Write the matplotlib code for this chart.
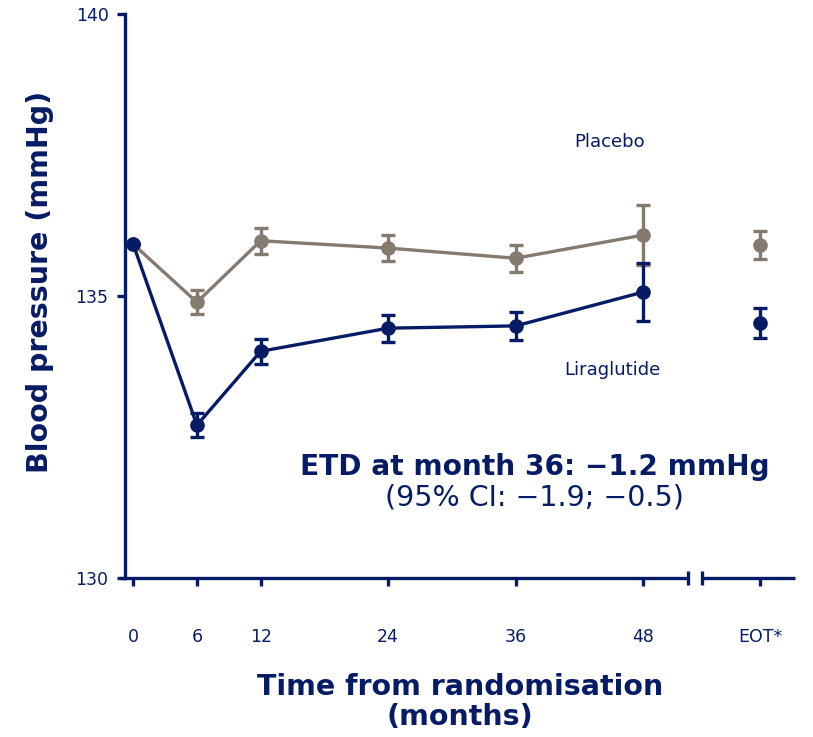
import matplotlib
matplotlib.use("Agg")
import matplotlib.pyplot as plt

NAVY = "#061b65"
GRAY = "#857a70"

months = [0, 6, 12, 24, 36, 48]
eot_pos = 59
tick_positions = [0, 6, 12, 24, 36, 48, 59]
tick_labels = ["0", "6", "12", "24", "36", "48", "EOT*"]

lira = [135.92, 132.71, 134.02, 134.43, 134.47, 135.07]
lira_err = [0.0, 0.21, 0.22, 0.24, 0.25, 0.52]
lira_eot = 134.52
lira_eot_err = 0.26

placebo = [135.92, 134.89, 135.98, 135.85, 135.67, 136.08]
placebo_err = [0.0, 0.21, 0.23, 0.23, 0.24, 0.53]
placebo_eot = 135.90
placebo_eot_err = 0.25

fig = plt.figure(figsize=(8.13, 7.37), dpi=100)
ax = fig.add_axes([0.154, 0.2157, 0.824, 0.7653])

kw = dict(marker="o", markersize=9.5, linewidth=2.4, elinewidth=2.4,
          capsize=5, capthick=2.4, clip_on=False)
ax.errorbar(months, placebo, yerr=placebo_err, color=GRAY, zorder=3, **kw)
ax.errorbar([eot_pos], [placebo_eot], yerr=[placebo_eot_err], color=GRAY, zorder=3, **kw)
ax.errorbar(months, lira, yerr=lira_err, color=NAVY, zorder=4, **kw)
ax.errorbar([eot_pos], [lira_eot], yerr=[lira_eot_err], color=NAVY, zorder=4, **kw)

ax.set_xlim(-0.75, 62.3)
ax.set_ylim(130, 140)

for s in ["top", "right", "bottom"]:
    ax.spines[s].set_visible(False)
ax.spines["left"].set_color(NAVY)
ax.spines["left"].set_linewidth(2.4)

# broken x-axis
b1, b2 = 52.2, 53.5
ax.plot([-1.2, b1], [130, 130], color=NAVY, lw=2.4, clip_on=False, solid_capstyle="butt")
ax.plot([b2, 62.3], [130, 130], color=NAVY, lw=2.4, clip_on=False, solid_capstyle="butt")
for b in (b1, b2):
    ax.plot([b, b], [129.88, 130.12], color=NAVY, lw=2.4, clip_on=False, solid_capstyle="butt")

ax.set_yticks([130, 135, 140])
ax.set_yticklabels(["130", "135", "140"])
ax.set_xticks(tick_positions)
ax.set_xticklabels(tick_labels)
ax.tick_params(axis="y", direction="out", length=6, width=2.4, color=NAVY,
               labelcolor=NAVY, labelsize=12.5, pad=6)
ax.tick_params(axis="x", direction="out", length=6, width=2.4, color=NAVY,
               labelcolor=NAVY, labelsize=12.5, pad=30)

ax.set_ylabel("Blood pressure (mmHg)", fontsize=20.5, fontweight="bold", color=NAVY)
ax.yaxis.set_label_coords(-0.107, 0.525)
ax.set_xlabel("Time from randomisation\n(months)", fontsize=20.5, fontweight="bold",
              color=NAVY, linespacing=1.1)
ax.xaxis.set_label_coords(0.5, -0.168)

ax.text(44.8, 137.73, "Placebo", color=NAVY, fontsize=13, ha="center", va="center")
ax.text(45.1, 133.69, "Liraglutide", color=NAVY, fontsize=13, ha="center", va="center")
ax.text(37.8, 131.97, "ETD at month 36: \u22121.2 mmHg", color=NAVY, fontsize=20.2,
        fontweight="bold", ha="center", va="center")
ax.text(37.8, 131.42, "(95% CI: \u22121.9; \u22120.5)", color=NAVY, fontsize=20.5,
        ha="center", va="center")

fig.savefig("out.png", dpi=100)
